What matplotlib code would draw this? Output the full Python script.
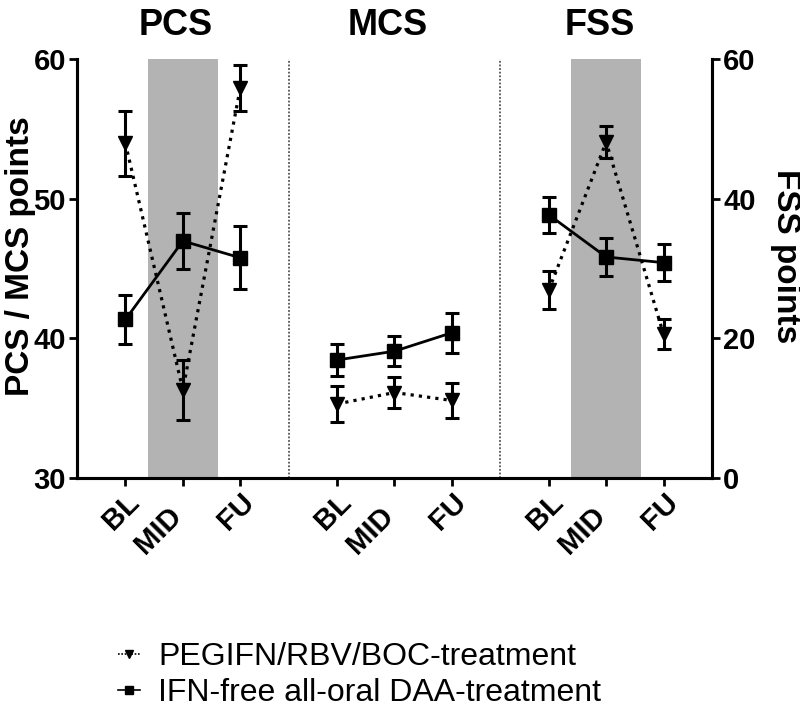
"""
PCS / MCS / FSS scores at BL, MID and FU for two treatment groups
"""

import numpy as np
import matplotlib
matplotlib.use('Agg')
import matplotlib.pyplot as plt
import matplotlib.transforms as mtransforms
from matplotlib.lines import Line2D

# data
panels = ['PCS', 'MCS', 'FSS']
timepoints = ['BL', 'MID', 'FU']
shaded_panels = ['PCS', 'FSS']

peg_label = 'PEGIFN/RBV/BOC-treatment'
daa_label = 'IFN-free all-oral DAA-treatment'

# PCS / MCS on the left scale (points)
peg_pcs = [53.95, 36.3, 57.9]
peg_pcs_err = [2.35, 2.15, 1.65]
daa_pcs = [41.35, 46.97, 45.77]
daa_pcs_err = [1.75, 2.03, 2.27]

peg_mcs = [35.3, 36.12, 35.55]
peg_mcs_err = [1.3, 1.13, 1.25]
daa_mcs = [38.45, 39.08, 40.4]
daa_mcs_err = [1.15, 1.08, 1.43]

# FSS on the right scale (points)
peg_fss = [26.9, 48.13, 20.58]
peg_fss_err = [2.74, 2.27, 2.15]
daa_fss = [37.69, 31.65, 30.84]
daa_fss_err = [2.55, 2.75, 2.64]

left_ticks = [30, 40, 50, 60]
right_ticks = [0, 20, 40, 60]

# layout
plt.rcParams['font.family'] = ['Liberation Sans', 'DejaVu Sans']
panel_w = 3.69
x_start = -0.85
centers = [x_start + panel_w / 2 + i * panel_w for i in range(len(panels))]

fig = plt.figure(figsize=(8, 7.1), dpi=100)
ax = fig.add_axes([77 / 800, 1 - 478 / 710, 635 / 800, 419 / 710])
ax2 = ax.twinx()

ax.set_xlim(x_start, x_start + 3 * panel_w)
ax.set_ylim(30, 60)
ax2.set_ylim(0, 60)

# shading and separators
for name, c in zip(panels, centers):
    if name in shaded_panels:
        ax.axvspan(c - 0.615, c + 0.615, color='#b3b3b3', lw=0, zorder=0)
for i in range(1, len(panels)):
    ax.axvline(x_start + i * panel_w, color='#555555', lw=1.3,
               linestyle=(0, (1, 1)), zorder=1)

err_kw = dict(color='black', ecolor='black', elinewidth=2.2, capsize=5,
              capthick=2.2, zorder=5)


def draw_group(axis, c, peg, peg_err, daa, daa_err):
    xs = np.array([c - 1, c, c + 1])
    axis.errorbar(xs, peg, yerr=peg_err, marker='v', markersize=10,
                  linestyle=(0, (1, 1.6)), lw=2.3, **err_kw)
    axis.errorbar(xs, daa, yerr=daa_err, marker='s', markersize=10,
                  linestyle='-', lw=2.0, **err_kw)


draw_group(ax, centers[0], peg_pcs, peg_pcs_err, daa_pcs, daa_pcs_err)
draw_group(ax, centers[1], peg_mcs, peg_mcs_err, daa_mcs, daa_mcs_err)
draw_group(ax2, centers[2], peg_fss, peg_fss_err, daa_fss, daa_fss_err)

# ticks
xticks = []
xlabels = []
for c in centers:
    xticks += [c - 1, c, c + 1]
    xlabels += timepoints
ax.set_xticks(xticks)
ax.set_xticklabels(xlabels, rotation=45, ha='right', va='top',
                   rotation_mode='anchor', fontsize=21, fontweight='bold')
ax.tick_params(axis='x', length=6, width=2, pad=1)
# MID labels sit a bit lower so they do not run into their neighbours
mid_shift = mtransforms.ScaledTranslation(-11 / 72, -10 / 72, fig.dpi_scale_trans)
for lab in ax.get_xticklabels():
    if lab.get_text() == 'MID':
        lab.set_transform(lab.get_transform() + mid_shift)

ax.set_yticks(left_ticks)
ax.set_yticklabels([str(t) for t in left_ticks], fontsize=21, fontweight='bold')
ax.tick_params(axis='y', length=6, width=2, pad=2)
ax2.set_yticks(right_ticks)
ax2.set_yticklabels([str(t) for t in right_ticks], fontsize=21, fontweight='bold')
ax2.tick_params(axis='y', length=6, width=2, pad=2)

for a in (ax, ax2):
    a.spines['top'].set_visible(False)
    for s in ('left', 'right', 'bottom'):
        a.spines[s].set_linewidth(2.2)

fig.text(21 / 800, 1 - 256 / 710, 'PCS / MCS points', rotation=90,
         ha='center', va='center', fontsize=24, fontweight='bold')
fig.text(785 / 800, 1 - 256 / 710, 'FSS points', rotation=270,
         ha='center', va='center', fontsize=24, fontweight='bold')

# panel titles
for name, c in zip(panels, centers):
    ax.text(c - 0.12, 1.057, name, transform=ax.get_xaxis_transform(),
            ha='center', va='baseline', fontsize=26, fontweight='bold')

# legend
handles = [
    Line2D([], [], color='black', marker='v', markersize=6,
           linestyle=(0, (1, 1)), lw=1.2),
    Line2D([], [], color='black', marker='s', markersize=6, linestyle='-', lw=1.2),
]
fig.legend(handles, [peg_label, daa_label], loc='center left',
           bbox_to_anchor=(118 / 800, 1 - 675 / 710), frameon=False,
           fontsize=23, handlelength=0.7, handletextpad=0.55, labelspacing=0.2,
           borderpad=0, borderaxespad=0)

fig.savefig('out.png', dpi=100)
